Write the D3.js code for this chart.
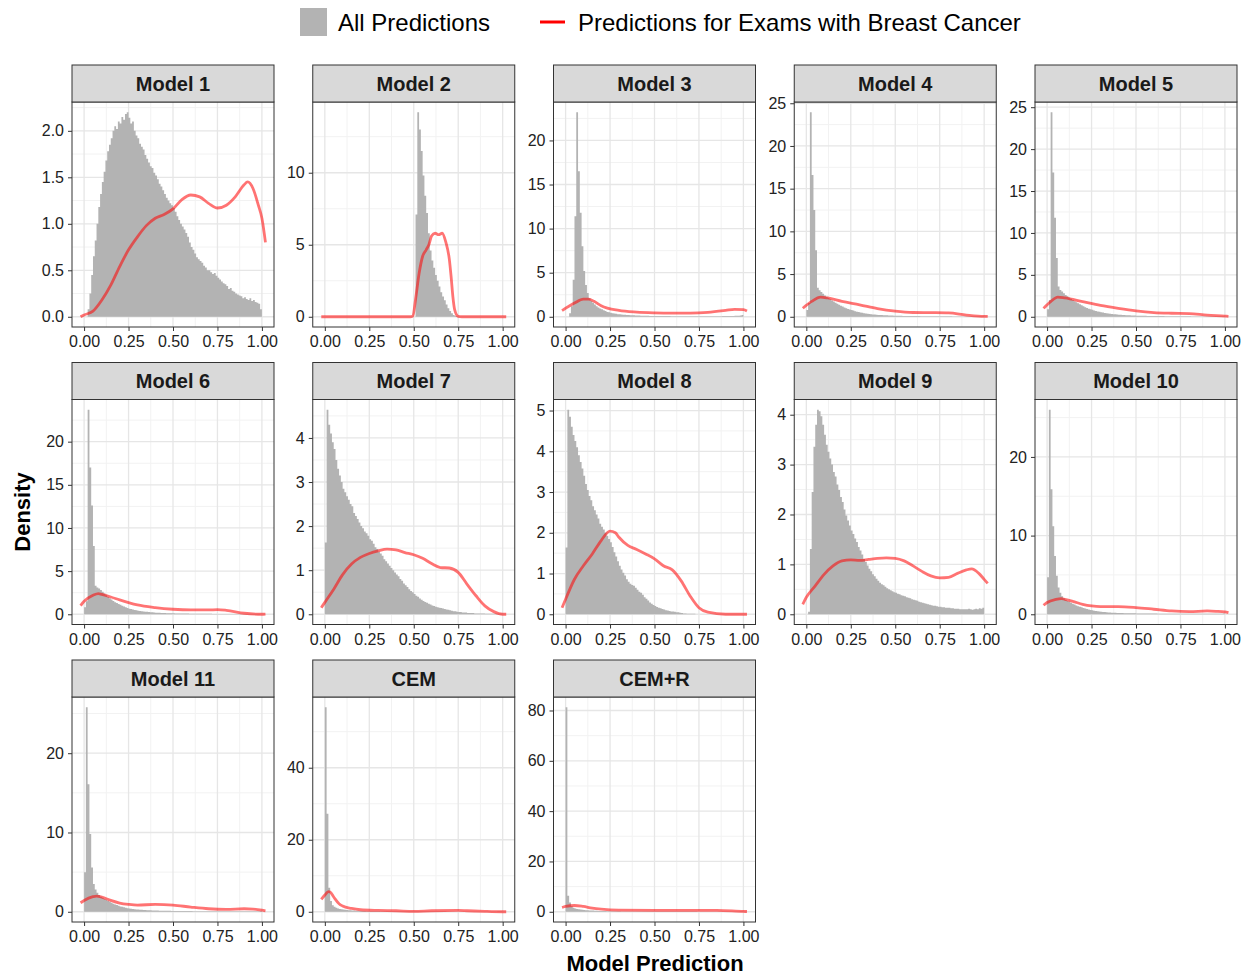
<!DOCTYPE html>
<html>
<head>
<meta charset="utf-8">
<script src="https://cdn.jsdelivr.net/npm/d3@7"></script>
<style>
  body { margin: 0; background: #fff; }
  svg text { font-family: "Liberation Sans", Arial, sans-serif; }
</style>
</head>
<body>
<svg id="chart" width="1252" height="977"></svg>
<script>
// facet titles, in reading order
const facetNames = ["Model 1", "Model 2", "Model 3", "Model 4", "Model 5",
  "Model 6", "Model 7", "Model 8", "Model 9", "Model 10",
  "Model 11", "CEM", "CEM+R"];

// y break spacing per facet (free y scales)
const yTickStep = [0.5, 5, 5, 5, 5, 5, 1, 1, 1, 10, 10, 20, 20];
const xTickValues = [0, 0.25, 0.5, 0.75, 1];
const xTickLabels = ["0.00", "0.25", "0.50", "0.75", "1.00"];
const binWidth = 0.01;

// histogram densities, all predictions (bins of 0.01 from 0 to 1)
const histModel1 = [0, 0, 0.08, 0.25, 0.45, 0.65, 0.82, 1.0, 1.18, 1.32,
  1.45, 1.56, 1.68, 1.78, 1.85, 1.92, 2.0, 2.05, 2.02, 2.1,
  2.08, 2.15, 2.12, 2.18, 2.2, 2.14, 2.08, 2.1, 2.0, 1.95,
  1.92, 1.86, 1.83, 1.8, 1.74, 1.7, 1.66, 1.62, 1.6, 1.55,
  1.52, 1.48, 1.43, 1.4, 1.36, 1.32, 1.28, 1.25, 1.22, 1.2,
  1.17, 1.13, 1.08, 1.04, 1.0, 0.97, 0.94, 0.9, 0.86, 0.8,
  0.75, 0.72, 0.68, 0.64, 0.62, 0.6, 0.58, 0.55, 0.53, 0.5,
  0.5, 0.48, 0.46, 0.47, 0.44, 0.42, 0.4, 0.38, 0.36, 0.35,
  0.33, 0.3, 0.31, 0.28, 0.27, 0.25, 0.24, 0.23, 0.22, 0.2,
  0.21, 0.19, 0.18, 0.2, 0.17, 0.18, 0.16, 0.15, 0.14, 0.08];
const histModel2 = [0, 0, 0, 0, 0, 0, 0, 0, 0, 0,
  0, 0, 0, 0, 0, 0, 0, 0, 0, 0,
  0, 0, 0, 0, 0, 0, 0, 0, 0, 0,
  0, 0, 0, 0, 0, 0, 0, 0, 0, 0,
  0, 0, 0, 0, 0, 0, 0, 0, 0, 0,
  0, 7.1, 14.2, 13.0, 11.5, 9.8, 8.4, 7.2, 5.8, 4.6,
  3.9, 3.4, 2.9, 2.5, 2.1, 1.7, 1.4, 1.15, 0.85, 0.6,
  0.4, 0.25, 0.12, 0.05, 0.02, 0, 0, 0, 0, 0,
  0, 0, 0, 0, 0, 0, 0, 0, 0, 0,
  0, 0, 0, 0, 0, 0, 0, 0, 0, 0];
const histModel3 = [0, 0, 0.4, 1.2, 4.2, 11.4, 23.2, 16.5, 11.8, 8.0,
  5.2, 3.6, 2.7, 2.1, 1.8, 1.6, 1.4, 1.2, 1.05, 0.95,
  0.85, 0.75, 0.65, 0.55, 0.5, 0.45, 0.4, 0.36, 0.33, 0.3,
  0.28, 0.26, 0.24, 0.22, 0.2, 0.19, 0.18, 0.17, 0.16, 0.15,
  0.14, 0.14, 0.13, 0.12, 0.12, 0.11, 0.11, 0.1, 0.1, 0.1,
  0.09, 0.09, 0.09, 0.09, 0.08, 0.08, 0.08, 0.08, 0.08, 0.07,
  0.07, 0.07, 0.07, 0.07, 0.07, 0.06, 0.06, 0.06, 0.06, 0.06,
  0.06, 0.06, 0.06, 0.06, 0.06, 0.06, 0.06, 0.06, 0.06, 0.06,
  0.06, 0.06, 0.06, 0.06, 0.07, 0.07, 0.07, 0.07, 0.08, 0.08,
  0.08, 0.09, 0.09, 0.1, 0.1, 0.11, 0.12, 0.13, 0.14, 0.2];
const histModel4 = [0.8, 1.6, 23.95, 16.6, 12.5, 7.8, 3.4, 3.1, 2.9, 2.7,
  2.5, 2.35, 2.2, 2.05, 1.9, 1.78, 1.65, 1.52, 1.4, 1.3,
  1.2, 1.1, 1.0, 0.92, 0.85, 0.78, 0.72, 0.66, 0.6, 0.55,
  0.5, 0.46, 0.42, 0.39, 0.36, 0.33, 0.3, 0.28, 0.26, 0.24,
  0.22, 0.21, 0.2, 0.19, 0.18, 0.17, 0.16, 0.15, 0.14, 0.13,
  0.12, 0.12, 0.11, 0.11, 0.1, 0.1, 0.1, 0.09, 0.09, 0.09,
  0.08, 0.08, 0.08, 0.08, 0.07, 0.07, 0.07, 0.07, 0.07, 0.06,
  0.06, 0.06, 0.06, 0.06, 0.06, 0.05, 0.05, 0.05, 0.05, 0.05,
  0.05, 0.05, 0.04, 0.04, 0.04, 0.04, 0.04, 0.04, 0.04, 0.04,
  0.03, 0.03, 0.03, 0.03, 0.03, 0.03, 0.03, 0.03, 0.03, 0.02];
const histModel5 = [0.9, 2.0, 24.4, 17.2, 11.8, 7.0, 3.6, 3.2, 3.0, 2.8,
  2.6, 2.45, 2.3, 2.15, 2.0, 1.86, 1.72, 1.6, 1.48, 1.36,
  1.25, 1.15, 1.05, 0.97, 0.9, 0.83, 0.76, 0.7, 0.64, 0.59,
  0.54, 0.5, 0.46, 0.42, 0.39, 0.36, 0.33, 0.31, 0.29, 0.27,
  0.25, 0.23, 0.22, 0.2, 0.19, 0.18, 0.17, 0.16, 0.15, 0.14,
  0.13, 0.13, 0.12, 0.12, 0.11, 0.11, 0.1, 0.1, 0.1, 0.09,
  0.09, 0.09, 0.08, 0.08, 0.08, 0.08, 0.07, 0.07, 0.07, 0.07,
  0.06, 0.06, 0.06, 0.06, 0.06, 0.05, 0.05, 0.05, 0.05, 0.05,
  0.05, 0.04, 0.04, 0.04, 0.04, 0.04, 0.04, 0.04, 0.03, 0.03,
  0.03, 0.03, 0.03, 0.03, 0.03, 0.03, 0.02, 0.02, 0.02, 0.02];
const histModel6 = [0.8, 1.5, 23.7, 17.0, 12.6, 7.9, 3.3, 3.1, 3.0, 2.8,
  2.6, 2.4, 2.2, 2.0, 1.85, 1.7, 1.55, 1.4, 1.3, 1.2,
  1.1, 1.0, 0.9, 0.8, 0.72, 0.65, 0.6, 0.55, 0.5, 0.46,
  0.42, 0.38, 0.35, 0.32, 0.3, 0.28, 0.26, 0.24, 0.22, 0.2,
  0.19, 0.18, 0.17, 0.16, 0.15, 0.14, 0.13, 0.12, 0.12, 0.11,
  0.11, 0.1, 0.1, 0.09, 0.09, 0.09, 0.08, 0.08, 0.08, 0.07,
  0.07, 0.07, 0.07, 0.06, 0.06, 0.06, 0.06, 0.05, 0.05, 0.05,
  0.05, 0.05, 0.04, 0.04, 0.04, 0.04, 0.04, 0.04, 0.03, 0.03,
  0.03, 0.03, 0.03, 0.03, 0.03, 0.02, 0.02, 0.02, 0.02, 0.02,
  0.02, 0.02, 0.02, 0.02, 0.02, 0.02, 0.02, 0.02, 0.02, 0.01];
const histModel7 = [1.63, 4.64, 4.3, 4.1, 3.9, 3.75, 3.5, 3.3, 3.15, 3.0,
  2.85, 2.77, 2.68, 2.6, 2.5, 2.45, 2.3, 2.23, 2.16, 2.08,
  2.0, 1.95, 1.88, 1.84, 1.78, 1.7, 1.67, 1.6, 1.52, 1.48,
  1.42, 1.38, 1.33, 1.25, 1.2, 1.15, 1.1, 1.05, 1.0, 0.95,
  0.9, 0.86, 0.8, 0.76, 0.7, 0.66, 0.62, 0.57, 0.53, 0.5,
  0.46, 0.42, 0.4, 0.36, 0.33, 0.3, 0.28, 0.26, 0.24, 0.22,
  0.2, 0.19, 0.17, 0.16, 0.15, 0.14, 0.13, 0.12, 0.11, 0.1,
  0.09, 0.08, 0.07, 0.07, 0.06, 0.05, 0.05, 0.04, 0.04, 0.04,
  0.03, 0.03, 0.03, 0.03, 0.02, 0.02, 0.02, 0.02, 0.02, 0.02,
  0.01, 0.01, 0.01, 0.01, 0.01, 0.01, 0.01, 0.01, 0.01, 0.01];
const histModel8 = [1.64, 5.02, 4.85, 4.6, 4.4, 4.25, 4.1, 3.9, 3.74, 3.58,
  3.4, 3.2, 3.05, 2.9, 2.8, 2.65, 2.55, 2.45, 2.35, 2.22,
  2.15, 2.08, 2.0, 1.93, 1.85, 1.77, 1.65, 1.52, 1.42, 1.3,
  1.19, 1.1, 1.02, 0.95, 0.86, 0.8, 0.75, 0.72, 0.7, 0.65,
  0.6, 0.55, 0.53, 0.48, 0.42, 0.38, 0.34, 0.29, 0.26, 0.23,
  0.2, 0.18, 0.16, 0.15, 0.13, 0.12, 0.1, 0.09, 0.08, 0.07,
  0.07, 0.06, 0.05, 0.05, 0.04, 0.03, 0.02, 0.02, 0.01, 0.01,
  0.01, 0.01, 0.01, 0, 0, 0, 0, 0, 0, 0,
  0, 0, 0, 0, 0, 0, 0, 0, 0, 0,
  0, 0, 0, 0, 0, 0, 0, 0, 0, 0];
const histModel9 = [0, 0.05, 1.31, 2.45, 3.36, 3.8, 4.1, 4.07, 3.97, 3.8,
  3.6, 3.4, 3.26, 3.12, 3.0, 2.85, 2.76, 2.6, 2.49, 2.35,
  2.25, 2.1, 1.98, 1.88, 1.78, 1.68, 1.61, 1.52, 1.45, 1.35,
  1.28, 1.2, 1.11, 1.05, 0.98, 0.91, 0.86, 0.8, 0.76, 0.71,
  0.67, 0.63, 0.6, 0.58, 0.55, 0.52, 0.5, 0.48, 0.46, 0.44,
  0.43, 0.41, 0.4, 0.38, 0.37, 0.36, 0.34, 0.33, 0.32, 0.3,
  0.29, 0.28, 0.27, 0.25, 0.24, 0.23, 0.22, 0.21, 0.2, 0.19,
  0.18, 0.17, 0.17, 0.16, 0.15, 0.15, 0.14, 0.14, 0.13, 0.13,
  0.13, 0.12, 0.12, 0.11, 0.11, 0.11, 0.1, 0.1, 0.1, 0.1,
  0.1, 0.11, 0.1, 0.09, 0.1, 0.11, 0.1, 0.12, 0.11, 0.13];
const histModel10 = [4.7, 26.0, 15.9, 11.2, 7.4, 4.9, 3.4, 2.75, 2.3, 2.05,
  1.85, 1.7, 1.58, 1.45, 1.35, 1.25, 1.12, 1.02, 0.95, 0.88,
  0.8, 0.72, 0.66, 0.6, 0.55, 0.5, 0.46, 0.42, 0.39, 0.36,
  0.33, 0.3, 0.28, 0.26, 0.24, 0.22, 0.2, 0.19, 0.18, 0.17,
  0.16, 0.15, 0.15, 0.14, 0.14, 0.13, 0.13, 0.12, 0.12, 0.12,
  0.11, 0.11, 0.11, 0.1, 0.1, 0.1, 0.1, 0.09, 0.09, 0.09,
  0.09, 0.09, 0.08, 0.08, 0.08, 0.08, 0.08, 0.08, 0.07, 0.07,
  0.07, 0.07, 0.07, 0.07, 0.07, 0.07, 0.06, 0.06, 0.06, 0.06,
  0.06, 0.06, 0.06, 0.06, 0.06, 0.06, 0.06, 0.06, 0.06, 0.06,
  0.06, 0.06, 0.06, 0.06, 0.06, 0.06, 0.07, 0.07, 0.08, 0.1];
const histModel11 = [5.0, 25.8, 16.1, 9.8, 5.6, 3.5, 2.8, 2.4, 2.1, 1.9,
  1.77, 1.6, 1.48, 1.36, 1.25, 1.14, 1.02, 0.92, 0.84, 0.76,
  0.68, 0.62, 0.56, 0.5, 0.46, 0.42, 0.38, 0.35, 0.33, 0.3,
  0.28, 0.26, 0.24, 0.22, 0.21, 0.2, 0.19, 0.18, 0.17, 0.16,
  0.15, 0.15, 0.14, 0.14, 0.13, 0.13, 0.12, 0.12, 0.12, 0.11,
  0.11, 0.11, 0.1, 0.1, 0.1, 0.1, 0.09, 0.09, 0.09, 0.09,
  0.09, 0.08, 0.08, 0.08, 0.08, 0.08, 0.08, 0.07, 0.07, 0.07,
  0.07, 0.07, 0.07, 0.07, 0.07, 0.06, 0.06, 0.06, 0.06, 0.06,
  0.06, 0.06, 0.06, 0.06, 0.06, 0.06, 0.06, 0.06, 0.06, 0.06,
  0.06, 0.06, 0.06, 0.06, 0.06, 0.06, 0.07, 0.07, 0.08, 0.1];
const histCEM = [56.8, 27.2, 6.7, 3.0, 1.8, 1.4, 1.1, 0.9, 0.8, 0.7,
  0.62, 0.56, 0.5, 0.45, 0.4, 0.36, 0.32, 0.28, 0.26, 0.24,
  0.22, 0.2, 0.19, 0.18, 0.17, 0.16, 0.15, 0.14, 0.13, 0.12,
  0.12, 0.11, 0.11, 0.1, 0.1, 0.1, 0.09, 0.09, 0.09, 0.08,
  0.08, 0.08, 0.08, 0.07, 0.07, 0.07, 0.07, 0.07, 0.06, 0.06,
  0.06, 0.06, 0.06, 0.06, 0.06, 0.05, 0.05, 0.05, 0.05, 0.05,
  0.05, 0.05, 0.05, 0.05, 0.05, 0.05, 0.05, 0.05, 0.04, 0.04,
  0.04, 0.04, 0.04, 0.04, 0.04, 0.04, 0.04, 0.04, 0.04, 0.04,
  0.04, 0.04, 0.04, 0.04, 0.04, 0.04, 0.04, 0.04, 0.04, 0.04,
  0.04, 0.04, 0.04, 0.04, 0.04, 0.04, 0.04, 0.05, 0.05, 0.06];
const histCEMR = [81.3, 6.4, 3.7, 2.2, 1.6, 1.3, 1.1, 1.0, 0.9, 0.8,
  0.72, 0.65, 0.6, 0.55, 0.5, 0.46, 0.42, 0.38, 0.35, 0.32,
  0.3, 0.28, 0.26, 0.24, 0.22, 0.21, 0.2, 0.19, 0.18, 0.17,
  0.16, 0.15, 0.15, 0.14, 0.14, 0.13, 0.13, 0.12, 0.12, 0.11,
  0.11, 0.11, 0.1, 0.1, 0.1, 0.1, 0.09, 0.09, 0.09, 0.09,
  0.08, 0.08, 0.08, 0.08, 0.08, 0.08, 0.07, 0.07, 0.07, 0.07,
  0.07, 0.07, 0.07, 0.06, 0.06, 0.06, 0.06, 0.06, 0.06, 0.06,
  0.06, 0.06, 0.06, 0.06, 0.05, 0.05, 0.05, 0.05, 0.05, 0.05,
  0.05, 0.05, 0.05, 0.05, 0.05, 0.05, 0.05, 0.05, 0.05, 0.05,
  0.05, 0.05, 0.05, 0.05, 0.05, 0.05, 0.05, 0.05, 0.06, 0.07];

// kernel density of predictions for exams with breast cancer, [x, density]
const densModel1 = [[-0.02, 0], [0, 0.02], [0.05, 0.06], [0.1, 0.18], [0.15, 0.34], [0.2, 0.54],
  [0.25, 0.72], [0.3, 0.86], [0.35, 0.98], [0.4, 1.06], [0.45, 1.1], [0.5, 1.16], [0.55, 1.26],
  [0.6, 1.31], [0.65, 1.29], [0.7, 1.22], [0.75, 1.17], [0.8, 1.2], [0.85, 1.29], [0.9, 1.42],
  [0.92, 1.45], [0.95, 1.38], [0.98, 1.2], [1.0, 1.06], [1.02, 0.8]];
const densModel2 = [[-0.02, 0], [0.48, 0], [0.495, 0.05], [0.51, 1.2], [0.53, 3.0], [0.55, 4.2],
  [0.57, 4.65], [0.585, 5.0], [0.6, 5.6], [0.62, 5.8], [0.64, 5.7], [0.66, 5.8], [0.68, 5.2],
  [0.7, 4.0], [0.71, 2.8], [0.72, 1.4], [0.73, 0.5], [0.75, 0.03], [0.77, 0], [1.02, 0]];
const densModel3 = [[-0.02, 0.7], [0.05, 1.55], [0.1, 2.0], [0.13, 2.0], [0.16, 1.75], [0.2, 1.25],
  [0.3, 0.72], [0.4, 0.53], [0.5, 0.45], [0.6, 0.42], [0.7, 0.42], [0.8, 0.5], [0.9, 0.72],
  [0.95, 0.85], [1.0, 0.8], [1.02, 0.65]];
const densModel4 = [[-0.02, 1.0], [0.03, 1.8], [0.08, 2.3], [0.12, 2.2], [0.2, 1.8], [0.3, 1.4],
  [0.4, 0.95], [0.5, 0.65], [0.6, 0.5], [0.7, 0.48], [0.8, 0.45], [0.9, 0.2], [1.0, 0.05], [1.02, 0.05]];
const densModel5 = [[-0.02, 1.0], [0.02, 1.8], [0.06, 2.35], [0.1, 2.25], [0.2, 1.8], [0.3, 1.35],
  [0.4, 1.0], [0.5, 0.7], [0.6, 0.5], [0.7, 0.42], [0.8, 0.38], [0.9, 0.2], [1.0, 0.08], [1.02, 0.05]];
const densModel6 = [[-0.02, 1.0], [0, 1.5], [0.05, 2.2], [0.08, 2.4], [0.1, 2.3], [0.15, 2.0],
  [0.2, 1.66], [0.25, 1.35], [0.3, 1.08], [0.4, 0.77], [0.5, 0.58], [0.6, 0.5], [0.7, 0.5],
  [0.75, 0.54], [0.8, 0.46], [0.9, 0.12], [1.0, 0.0], [1.02, 0.02]];
const densModel7 = [[-0.02, 0.15], [0, 0.27], [0.05, 0.57], [0.1, 0.9], [0.15, 1.14], [0.2, 1.29],
  [0.25, 1.38], [0.3, 1.44], [0.35, 1.48], [0.4, 1.46], [0.45, 1.4], [0.5, 1.35], [0.55, 1.27],
  [0.6, 1.15], [0.65, 1.06], [0.7, 1.05], [0.75, 0.95], [0.8, 0.68], [0.85, 0.42], [0.9, 0.19],
  [0.95, 0.06], [1.0, 0.0], [1.02, 0]];
const densModel8 = [[-0.02, 0.16], [0, 0.37], [0.05, 0.86], [0.1, 1.19], [0.15, 1.48], [0.2, 1.81],
  [0.25, 2.04], [0.28, 2.0], [0.3, 1.89], [0.35, 1.69], [0.4, 1.59], [0.45, 1.48], [0.5, 1.36],
  [0.55, 1.19], [0.6, 1.09], [0.65, 0.82], [0.7, 0.45], [0.75, 0.16], [0.8, 0.05], [0.9, 0.0], [1.02, 0]];
const densModel9 = [[-0.02, 0.2], [0, 0.34], [0.05, 0.57], [0.1, 0.8], [0.15, 0.97], [0.2, 1.07],
  [0.25, 1.09], [0.3, 1.08], [0.35, 1.1], [0.4, 1.12], [0.45, 1.13], [0.5, 1.12], [0.55, 1.07],
  [0.6, 0.97], [0.65, 0.86], [0.7, 0.77], [0.75, 0.73], [0.8, 0.74], [0.85, 0.82], [0.9, 0.89],
  [0.93, 0.91], [0.97, 0.82], [1.0, 0.7], [1.02, 0.62]];
const densModel10 = [[-0.02, 1.14], [0, 1.5], [0.05, 1.9], [0.08, 2.0], [0.1, 1.9], [0.15, 1.6],
  [0.2, 1.27], [0.25, 1.06], [0.3, 0.97], [0.4, 0.97], [0.5, 0.85], [0.6, 0.64], [0.7, 0.42],
  [0.8, 0.34], [0.9, 0.42], [0.95, 0.38], [1.0, 0.3], [1.02, 0.2]];
const densModel11 = [[-0.02, 1.14], [0, 1.43], [0.05, 1.9], [0.07, 1.98], [0.1, 1.85], [0.15, 1.43],
  [0.2, 1.1], [0.25, 0.93], [0.3, 0.84], [0.4, 0.93], [0.5, 0.84], [0.6, 0.59], [0.7, 0.38],
  [0.8, 0.3], [0.9, 0.38], [0.95, 0.34], [1.0, 0.2], [1.02, 0.12]];
const densCEM = [[-0.02, 3.45], [0, 4.66], [0.02, 5.6], [0.03, 5.5], [0.05, 4.1], [0.08, 2.24],
  [0.1, 1.6], [0.15, 0.93], [0.2, 0.56], [0.3, 0.37], [0.4, 0.28], [0.5, 0.1], [0.6, 0.28],
  [0.75, 0.37], [0.8, 0.28], [0.9, 0.1], [1.0, 0], [1.02, 0]];
const densCEMR = [[-0.02, 1.7], [0, 2.1], [0.05, 2.5], [0.1, 2.1], [0.15, 1.46], [0.2, 1.06],
  [0.3, 0.66], [0.5, 0.53], [0.7, 0.53], [0.85, 0.53], [1.0, 0.13], [1.02, 0.1]];

const hists = [histModel1, histModel2, histModel3, histModel4, histModel5, histModel6, histModel7,
  histModel8, histModel9, histModel10, histModel11, histCEM, histCEMR];
const dens = [densModel1, densModel2, densModel3, densModel4, densModel5, densModel6, densModel7,
  densModel8, densModel9, densModel10, densModel11, densCEM, densCEMR];

const svg = d3.select("#chart");

// facet grid layout
const panelW = 202, panelH = 225, stripH = 37;
const colLeft = c => 72 + c * 240.75;
const rowTop = r => 65 + r * 297.5;

facetNames.forEach((name, i) => {
  const col = i % 5, row = Math.floor(i / 5);
  const left = colLeft(col), top = rowTop(row) + stripH;
  const hist = hists[i], den = dens[i];

  // ggplot-like 5% expansion
  const yMax = Math.max(d3.max(hist), d3.max(den, d => d[1]));
  const x = d3.scaleLinear().domain([-0.068, 1.068]).range([0, panelW]);
  const y = d3.scaleLinear().domain([-0.05 * yMax, 1.05 * yMax]).range([panelH, 0]);

  const step = yTickStep[i];
  const yTicks = d3.range(0, y.domain()[1] + 1e-9, step);
  const yMinor = d3.range(step / 2, y.domain()[1], step);
  const xMinor = d3.range(0.125, 1, 0.25);

  const g = svg.append("g").attr("transform", `translate(${left},${top})`);

  g.append("rect").attr("width", panelW).attr("height", panelH).attr("fill", "#fff");

  // grid
  g.selectAll(".yminor").data(yMinor).join("line")
    .attr("x1", 0).attr("x2", panelW)
    .attr("y1", d => y(d)).attr("y2", d => y(d))
    .attr("stroke", "#f2f2f2").attr("stroke-width", 1);
  g.selectAll(".xminor").data(xMinor).join("line")
    .attr("y1", 0).attr("y2", panelH)
    .attr("x1", d => x(d)).attr("x2", d => x(d))
    .attr("stroke", "#f2f2f2").attr("stroke-width", 1);
  g.selectAll(".ymajor").data(yTicks).join("line")
    .attr("x1", 0).attr("x2", panelW)
    .attr("y1", d => y(d)).attr("y2", d => y(d))
    .attr("stroke", "#e6e6e6").attr("stroke-width", 1.3);
  g.selectAll(".xmajor").data(xTickValues).join("line")
    .attr("y1", 0).attr("y2", panelH)
    .attr("x1", d => x(d)).attr("x2", d => x(d))
    .attr("stroke", "#e6e6e6").attr("stroke-width", 1.3);

  // histogram as one stepped shape so adjacent bars have no seams
  const histPts = hist.map((v, k) => [k * binWidth, v]);
  histPts.push([hist.length * binWidth, hist[hist.length - 1]]);
  const area = d3.area()
    .x(d => x(d[0]))
    .y0(y(0))
    .y1(d => y(d[1]))
    .curve(d3.curveStepAfter);
  g.append("path").datum(histPts)
    .attr("d", area)
    .attr("fill", "#b3b3b3");

  // density line
  const line = d3.line()
    .x(d => x(d[0]))
    .y(d => y(d[1]))
    .curve(d3.curveMonotoneX);
  g.append("path").datum(den)
    .attr("d", line)
    .attr("fill", "none")
    .attr("stroke", "#ff0000")
    .attr("stroke-opacity", 0.55)
    .attr("stroke-width", 2.8)
    .attr("stroke-linejoin", "round");

  // panel border
  g.append("rect").attr("width", panelW).attr("height", panelH)
    .attr("fill", "none").attr("stroke", "#333").attr("stroke-width", 1);

  // strip
  g.append("rect").attr("x", 0).attr("y", -stripH).attr("width", panelW).attr("height", stripH)
    .attr("fill", "#d9d9d9").attr("stroke", "#333").attr("stroke-width", 1);
  g.append("text")
    .attr("x", panelW / 2).attr("y", -stripH / 2 + 7)
    .attr("text-anchor", "middle")
    .attr("font-size", 20).attr("font-weight", "bold").attr("fill", "#1a1a1a")
    .text(name);

  // axes
  const fmt = step < 1 ? d3.format(".1f") : d3.format("d");
  const yAxis = g.append("g")
    .call(d3.axisLeft(y).tickValues(yTicks).tickFormat(fmt).tickSize(4).tickPadding(4));
  const xAxis = g.append("g").attr("transform", `translate(0,${panelH})`)
    .call(d3.axisBottom(x).tickValues(xTickValues)
      .tickFormat((d, k) => xTickLabels[k]).tickSize(4).tickPadding(5));
  [yAxis, xAxis].forEach(a => {
    a.select(".domain").remove();
    a.selectAll(".tick line").attr("stroke", "#333");
    a.selectAll(".tick text").attr("font-size", 16).attr("fill", "#222")
      .attr("font-family", "'Liberation Sans', Arial, sans-serif");
  });
});

// axis titles
svg.append("text")
  .attr("transform", "translate(30,512) rotate(-90)")
  .attr("text-anchor", "middle")
  .attr("font-size", 22).attr("font-weight", "bold")
  .text("Density");
svg.append("text")
  .attr("x", 655).attr("y", 971)
  .attr("text-anchor", "middle")
  .attr("font-size", 22).attr("font-weight", "bold")
  .text("Model Prediction");

// legend
const legend = svg.append("g");
legend.append("rect").attr("x", 300).attr("y", 8).attr("width", 27).attr("height", 28)
  .attr("fill", "#b3b3b3");
legend.append("text").attr("x", 338).attr("y", 31).attr("font-size", 24)
  .text("All Predictions");
legend.append("line").attr("x1", 540).attr("x2", 565).attr("y1", 22).attr("y2", 22)
  .attr("stroke", "#ff0000").attr("stroke-width", 3);
legend.append("text").attr("x", 578).attr("y", 31).attr("font-size", 24)
  .text("Predictions for Exams with Breast Cancer");
</script>
</body>
</html>
